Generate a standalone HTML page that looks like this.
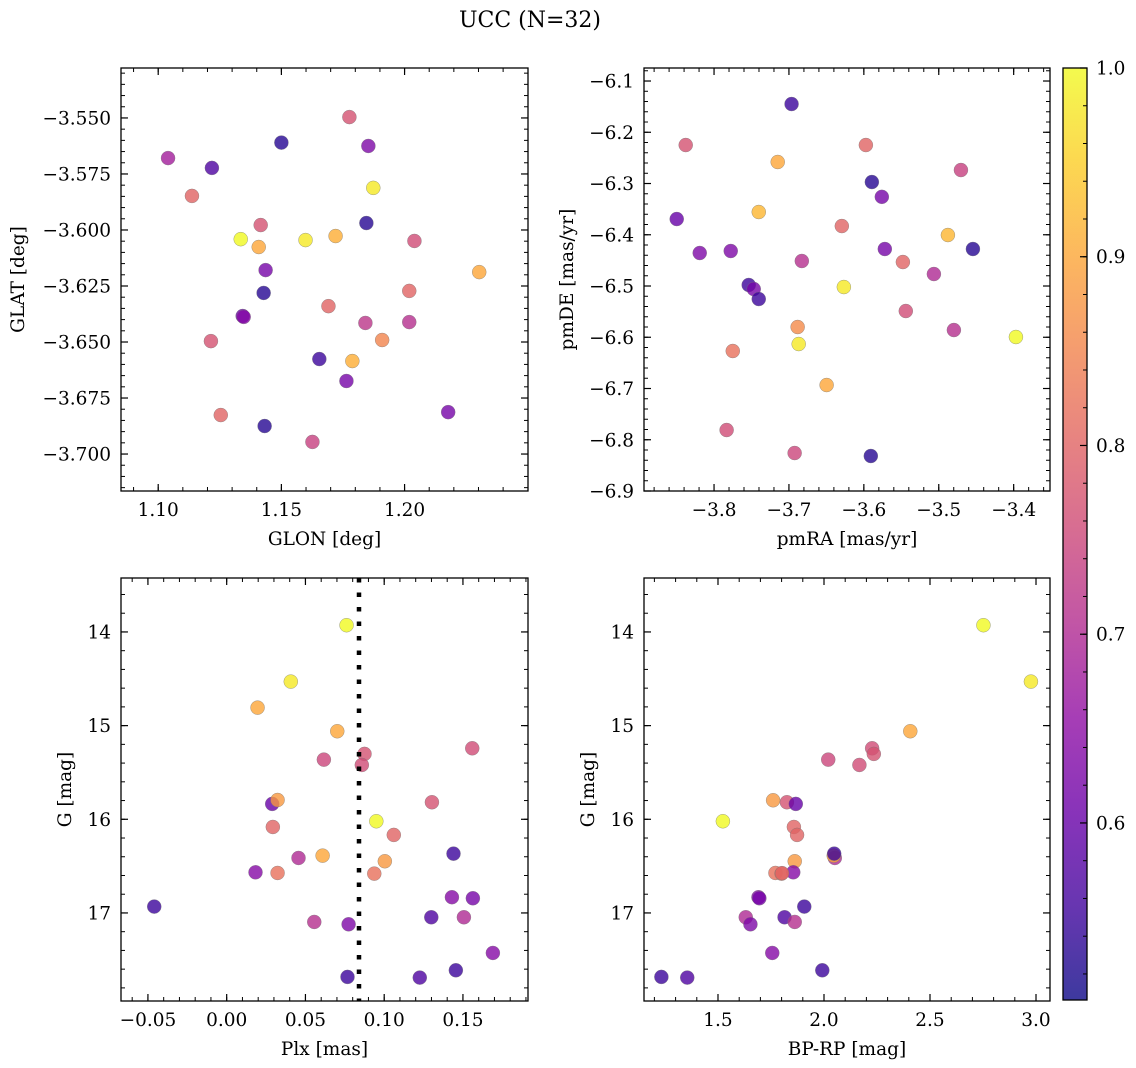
<!DOCTYPE html>
<html><head><meta charset="utf-8"><style>
body{margin:0;background:#fff}
svg{display:block}
text{font-family:"DejaVu Serif","Liberation Serif",serif;fill:#000}
</style></head><body>
<svg id="fig" width="1136" height="1068" viewBox="0 0 1136 1068" xmlns="http://www.w3.org/2000/svg">
<defs>
<linearGradient id="plasmaGrad" x1="0" y1="1" x2="0" y2="0"></linearGradient>
</defs>
<text x="530" y="27" font-size="22" text-anchor="middle">UCC (N=32)</text>
</svg>
<script>
// ---- Panel 1: GLON vs GLAT ----
const p1Glon=[1.104,1.1218,1.1137,1.150,1.1776,1.1853,1.1873,1.1845,1.1416,1.1335,1.1408,1.1598,1.172,1.204,1.2303,1.1436,1.1428,1.1691,1.2019,1.1343,1.1347,1.1841,1.2019,1.1214,1.1909,1.1654,1.1788,1.1764,1.1254,1.1432,1.2177,1.1626];
const p1Glat=[-3.5679,-3.5723,-3.5848,-3.561,-3.5496,-3.5625,-3.5812,-3.5969,-3.5978,-3.6041,-3.6076,-3.6045,-3.6027,-3.6049,-3.6188,-3.6179,-3.6281,-3.634,-3.6272,-3.6384,-3.6388,-3.6415,-3.6411,-3.6496,-3.6491,-3.6576,-3.6585,-3.6674,-3.6826,-3.6875,-3.6813,-3.6946];
const p1Prob=[0.68,0.57,0.80,0.53,0.77,0.63,0.98,0.53,0.77,1.0,0.90,0.98,0.91,0.76,0.90,0.62,0.53,0.80,0.80,0.60,0.64,0.72,0.71,0.77,0.85,0.55,0.91,0.62,0.80,0.53,0.62,0.74];
// ---- Panel 2: pmRA vs pmDE ----
const p2Pmra=[-3.6965,-3.8378,-3.7150,-3.5973,-3.5893,-3.576,-3.4704,-3.8498,-3.7403,-3.6294,-3.4878,-3.4544,-3.572,-3.8191,-3.7777,-3.6828,-3.5479,-3.5065,-3.7537,-3.747,-3.7403,-3.6267,-3.544,-3.4798,-3.397,-3.6884,-3.687,-3.775,-3.6497,-3.7832,-3.6924,-3.5907];
const p2Pmde=[-6.1449,-6.2249,-6.258,-6.2249,-6.2971,-6.326,-6.2737,-6.3693,-6.3556,-6.383,-6.4005,-6.4278,-6.4278,-6.4356,-6.4317,-6.4512,-6.4532,-6.4766,-6.498,-6.5059,-6.5254,-6.502,-6.5488,-6.5859,-6.5995,-6.58,-6.6132,-6.6268,-6.6932,-6.781,-6.8259,-6.8317];
const p2Prob=[0.55,0.77,0.90,0.80,0.53,0.62,0.74,0.60,0.92,0.80,0.92,0.53,0.62,0.63,0.63,0.71,0.80,0.70,0.55,0.62,0.55,0.98,0.76,0.71,1.0,0.86,0.98,0.82,0.90,0.76,0.75,0.53];
// ---- Panel 3: Plx vs G ----
const p3Plx=[0.0761,0.0407,0.0196,0.0702,0.1559,0.0875,0.0617,0.0858,0.0289,0.0323,0.1303,0.0950,0.0293,0.1061,0.1440,0.0456,0.0609,0.1004,0.0183,0.0323,0.0937,0.1430,0.1563,-0.0460,0.1299,0.1506,0.0556,0.0774,0.169,0.1455,0.0767,0.1226];
const p3G=[13.928,14.530,14.808,15.06,15.242,15.302,15.363,15.420,15.836,15.794,15.818,16.021,16.082,16.167,16.367,16.413,16.388,16.448,16.566,16.573,16.580,16.832,16.843,16.932,17.046,17.046,17.096,17.121,17.427,17.612,17.683,17.69];
const p3Prob=[1.0,0.98,0.90,0.90,0.76,0.77,0.75,0.76,0.60,0.88,0.77,1.0,0.80,0.80,0.55,0.70,0.90,0.88,0.64,0.82,0.82,0.64,0.62,0.55,0.57,0.70,0.71,0.63,0.64,0.55,0.55,0.57];
// ---- Panel 4: BP-RP vs G ----
const p4Bprp=[2.752,2.976,2.407,2.227,2.235,2.020,2.167,1.760,1.825,1.867,1.523,1.858,1.873,2.051,2.046,1.862,2.048,1.855,1.771,1.800,1.691,1.695,1.907,1.631,1.814,1.862,1.653,1.756,1.992,1.233,1.355,1.802];
const p4G=[13.928,14.530,15.06,15.242,15.302,15.363,15.420,15.797,15.818,15.836,16.021,16.082,16.167,16.413,16.388,16.448,16.367,16.566,16.573,16.580,16.832,16.843,16.932,17.046,17.046,17.096,17.121,17.427,17.612,17.683,17.69,16.575];
const p4Prob=[1.0,0.98,0.90,0.76,0.77,0.75,0.76,0.88,0.77,0.60,1.0,0.80,0.80,0.70,0.90,0.88,0.55,0.64,0.82,0.82,0.64,0.62,0.55,0.70,0.57,0.71,0.63,0.64,0.55,0.55,0.57,0.80];
// ---- ticks ----
const p1XTicks=[1.10,1.15,1.20];
const p1XTickLabels=["1.10","1.15","1.20"];
const p1YTicks=[-3.550,-3.575,-3.600,-3.625,-3.650,-3.675,-3.700];
const p1YTickLabels=["\u22123.550","\u22123.575","\u22123.600","\u22123.625","\u22123.650","\u22123.675","\u22123.700"];
const p2XTicks=[-3.8,-3.7,-3.6,-3.5,-3.4];
const p2XTickLabels=["\u22123.8","\u22123.7","\u22123.6","\u22123.5","\u22123.4"];
const p2YTicks=[-6.1,-6.2,-6.3,-6.4,-6.5,-6.6,-6.7,-6.8,-6.9];
const p2YTickLabels=["\u22126.1","\u22126.2","\u22126.3","\u22126.4","\u22126.5","\u22126.6","\u22126.7","\u22126.8","\u22126.9"];
const p3XTicks=[-0.05,0.00,0.05,0.10,0.15];
const p3XTickLabels=["\u22120.05","0.00","0.05","0.10","0.15"];
const gTicks=[14,15,16,17];
const gTickLabels=["14","15","16","17"];
const p4XTicks=[1.5,2.0,2.5,3.0];
const p4XTickLabels=["1.5","2.0","2.5","3.0"];
const cbTicks=[0.6,0.7,0.8,0.9,1.0];
const cbTickLabels=["0.6","0.7","0.8","0.9","1.0"];
const plxLine=[0.084];

const CMIN=0.5062, CMAX=1.0;
const FS=18.5;
const NS="http://www.w3.org/2000/svg";
const svg=document.getElementById('fig');
const plasma=[[13,8,135],[65,4,157],[106,0,168],[143,13,164],[177,42,144],[204,71,120],[225,100,98],[242,132,75],[252,166,54],[252,206,37],[240,249,33]];
function cmap(v){let t=(v-CMIN)/(CMAX-CMIN);t=Math.max(0,Math.min(1,t))*10;const i=Math.min(9,Math.floor(t)),f=t-i;const a=plasma[i],b=plasma[i+1];return 'rgb('+a.map((c,k)=>Math.round(c+(b[k]-c)*f)).join(',')+')';}
function el(tag,attrs,parent){const e=document.createElementNS(NS,tag);for(const k in attrs)e.setAttribute(k,attrs[k]);(parent||svg).appendChild(e);return e;}

function panel(o){
  const g=el('g',{});
  
  
  const sx=v=>o.x0+(v-o.xmin)/(o.xmax-o.xmin)*(o.x1-o.x0);
  const sy=o.invY? (v=>o.y0+(v-o.ymin)/(o.ymax-o.ymin)*(o.y1-o.y0)) : (v=>o.y1-(v-o.ymin)/(o.ymax-o.ymin)*(o.y1-o.y0));
  if(o.vline){o.vline.forEach(v=>{const l=el('line',{x1:sx(v),x2:sx(v),y1:o.y0,y2:o.y1,stroke:'#000','stroke-width':4.5,'stroke-dasharray':'4.5 10'},g);
    
    });}
  for(let i=0;i<o.xs.length;i++){
    const c=el('circle',{cx:sx(o.xs[i]),cy:sy(o.ys[i]),r:7,fill:cmap(o.cs[i]),'fill-opacity':0.8,stroke:'#777','stroke-opacity':0.7,'stroke-width':0.5},g);
    
    
  }
  const fr=el('rect',{x:o.x0,y:o.y0,width:o.x1-o.x0,height:o.y1-o.y0,fill:'none',stroke:'#000','stroke-width':1.3},g);
  
  
  const eps=1e-9;
  for(let v=Math.ceil((o.xmin)/o.xminor-eps)*o.xminor; v<=o.xmax+eps; v+=o.xminor){const X=sx(v);if(X<o.x0+1||X>o.x1-1)continue;
    el('line',{x1:X,x2:X,y1:o.y1,y2:o.y1-4,stroke:'#000','stroke-width':1},g);el('line',{x1:X,x2:X,y1:o.y0,y2:o.y0+4,stroke:'#000','stroke-width':1},g);}
  for(let v=Math.ceil((o.ymin)/o.yminor-eps)*o.yminor; v<=o.ymax+eps; v+=o.yminor){const Y=sy(v);if(Y<o.y0+1||Y>o.y1-1)continue;
    el('line',{x1:o.x0,x2:o.x0+4,y1:Y,y2:Y,stroke:'#000','stroke-width':1},g);el('line',{x1:o.x1,x2:o.x1-4,y1:Y,y2:Y,stroke:'#000','stroke-width':1},g);}
  o.xt.forEach((v,i)=>{const X=sx(v);
    el('line',{x1:X,x2:X,y1:o.y1,y2:o.y1-7,stroke:'#000','stroke-width':1.2},g);el('line',{x1:X,x2:X,y1:o.y0,y2:o.y0+7,stroke:'#000','stroke-width':1.2},g);
    const t=el('text',{x:X,y:o.y1+25,'font-size':FS,'text-anchor':'middle'},g);t.textContent=o.xl[i];
    
    });
  o.yt.forEach((v,i)=>{const Y=sy(v);
    el('line',{x1:o.x0,x2:o.x0+7,y1:Y,y2:Y,stroke:'#000','stroke-width':1.2},g);el('line',{x1:o.x1,x2:o.x1-7,y1:Y,y2:Y,stroke:'#000','stroke-width':1.2},g);
    const t=el('text',{x:o.x0-10,y:Y+6.5,'font-size':FS,'text-anchor':'end'},g);t.textContent=o.yl[i];
    
    });
  const xt=el('text',{x:(o.x0+o.x1)/2,y:o.y1+54,'font-size':FS,'text-anchor':'middle'},g);xt.textContent=o.xlabel;
  
  
  const yx=o.ylx, yy=(o.y0+o.y1)/2;
  const yt=el('text',{x:yx,y:yy,'font-size':FS,'text-anchor':'middle',transform:'rotate(-90 '+yx+' '+yy+')'},g);yt.textContent=o.ylabel;
  
  
}
panel({name:'glon-glat-panel',x0:121,x1:528,y0:68,y1:491,xmin:1.0849,xmax:1.2501,ymin:-3.7165,ymax:-3.5277,xs:p1Glon,ys:p1Glat,cs:p1Prob,xt:p1XTicks,xl:p1XTickLabels,yt:p1YTicks,yl:p1YTickLabels,xminor:0.01,yminor:0.005,xlabel:'GLON [deg]',ylabel:'GLAT [deg]',ylx:24});
panel({name:'pm-panel',x0:644,x1:1050,y0:68,y1:491,xmin:-3.8935,xmax:-3.3515,ymin:-6.9,ymax:-6.0746,xs:p2Pmra,ys:p2Pmde,cs:p2Prob,xt:p2XTicks,xl:p2XTickLabels,yt:p2YTicks,yl:p2YTickLabels,xminor:0.02,yminor:0.02,xlabel:'pmRA [mas/yr]',ylabel:'pmDE [mas/yr]',ylx:573});
panel({name:'plx-g-panel',x0:121,x1:528,y0:578,y1:1001,xmin:-0.0671,xmax:0.1913,ymin:13.424,ymax:17.94,invY:true,xs:p3Plx,ys:p3G,cs:p3Prob,xt:p3XTicks,xl:p3XTickLabels,yt:gTicks,yl:gTickLabels,xminor:0.01,yminor:0.2,xlabel:'Plx [mas]',ylabel:'G [mag]',ylx:71});
panel({name:'cmd-panel',x0:644,x1:1050,y0:578,y1:1001,xmin:1.151,xmax:3.066,ymin:13.424,ymax:17.94,invY:true,xs:p4Bprp,ys:p4G,cs:p4Prob,xt:p4XTicks,xl:p4XTickLabels,yt:gTicks,yl:gTickLabels,xminor:0.1,yminor:0.2,xlabel:'BP-RP [mag]',ylabel:'G [mag]',ylx:594});
</script>
<script>
// plx reference line redrawn on top of panel 3 (matplotlib draws axvline over scatter)
(function(){
  const sx=v=>121+(v-(-0.0671))/(0.1913-(-0.0671))*(528-121);
  plxLine.forEach(v=>{const l=el('line',{x1:sx(v),x2:sx(v),y1:578,y2:1001,stroke:'#000','stroke-width':4.5,'stroke-dasharray':'4.5 10'});
    
    });
})();
// colorbar
const grad=document.getElementById('plasmaGrad');
plasma.forEach((c,i)=>{el('stop',{offset:(i*10)+'%','stop-color':'rgb('+c.join(',')+')'},grad);});
const cb=el('g',{});


const CX0=1063,CX1=1087,CY0=68,CY1=1000;
const cy=v=>CY1-(v-CMIN)/(CMAX-CMIN)*(CY1-CY0);
el('rect',{x:CX0,y:CY0,width:CX1-CX0,height:CY1-CY0,fill:'url(#plasmaGrad)','fill-opacity':0.8},cb);
el('rect',{x:CX0,y:CY0,width:CX1-CX0,height:CY1-CY0,fill:'none',stroke:'#000','stroke-width':1.3},cb);
for(let v=0.52;v<0.999;v+=0.02){const Y=cy(v);el('line',{x1:CX1,x2:CX1-4,y1:Y,y2:Y,stroke:'#000','stroke-width':1},cb);}
cbTicks.forEach((v,i)=>{const Y=cy(v);el('line',{x1:CX1,x2:CX1-7,y1:Y,y2:Y,stroke:'#000','stroke-width':1.2},cb);
  const t=el('text',{x:CX1+9,y:Y+6.5,'font-size':FS},cb);t.textContent=cbTickLabels[i];
  
  });
</script>
</body></html>
